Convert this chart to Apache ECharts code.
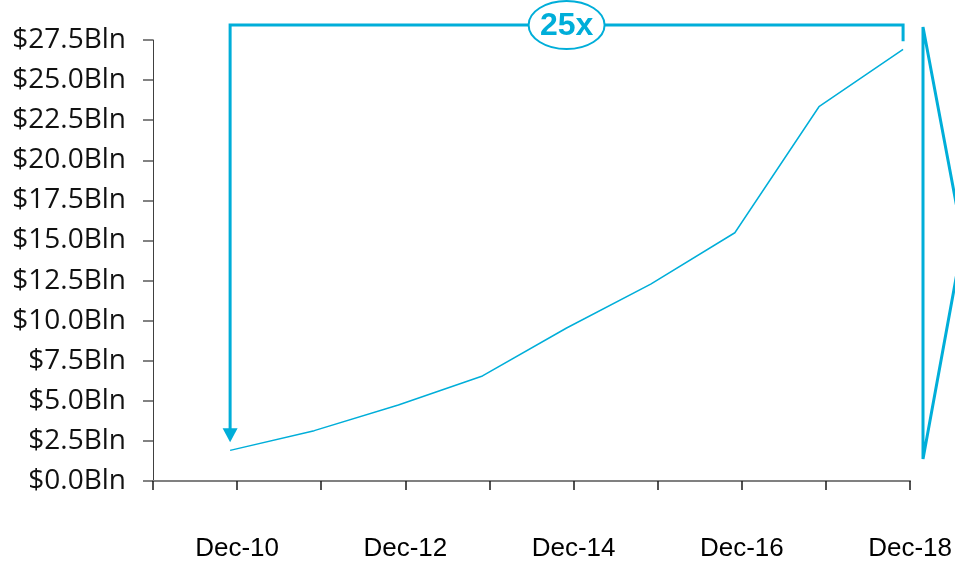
<!DOCTYPE html>
<html>
<head>
<meta charset="utf-8">
<script src="https://cdn.jsdelivr.net/npm/echarts@6/dist/echarts.min.js"></script>
<style>
  html, body { margin: 0; padding: 0; background: #fff; }
  #chart { width: 955px; height: 562px; }
</style>
</head>
<body>
<div id="chart"></div>
<script>
// Year-end totals, $ billions
const periods = ['Dec-10', 'Dec-11', 'Dec-12', 'Dec-13', 'Dec-14', 'Dec-15', 'Dec-16', 'Dec-17', 'Dec-18'];
const totals = [1.91, 3.14, 4.74, 6.55, 9.54, 12.28, 15.48, 23.34, 26.92];
const axisLabels = ['Dec-10', 'Dec-12', 'Dec-14', 'Dec-16', 'Dec-18'];
const growthLabel = '25x';

const ACCENT = '#00AED9';
const MONTHS = { Jan: 0, Feb: 1, Mar: 2, Apr: 3, May: 4, Jun: 5, Jul: 6, Aug: 7, Sep: 8, Oct: 9, Nov: 10, Dec: 11 };

// 'Dec-10' -> fractional year on a linear year axis
function toYear(p) {
  const [m, yy] = p.split('-');
  return 2000 + parseInt(yy, 10) + MONTHS[m] / 12;
}

const points = periods.map((p, i) => [toYear(p), totals[i]]);
const firstYear = Math.floor(points[0][0]);
const lastYear = Math.ceil(points[points.length - 1][0]);

// label for the year boundary that follows each listed period
const labelAt = {};
axisLabels.forEach(l => { labelAt[Math.floor(toYear(l)) + 1] = l; });

const chart = echarts.init(document.getElementById('chart'));

chart.setOption({
  animation: false,
  backgroundColor: '#ffffff',
  grid: { left: 153, right: 43, top: 40, bottom: 81, containLabel: false },
  xAxis: {
    type: 'value',
    min: firstYear,
    max: lastYear,
    interval: 1,
    splitLine: { show: false },
    axisLine: { show: true, lineStyle: { color: '#808080', width: 2 } },
    axisTick: { show: true, length: 9, lineStyle: { color: '#1a1a1a', width: 1.5 } },
    axisLabel: {
      show: true,
      margin: 55,
      fontFamily: 'Liberation Sans, Arial, sans-serif',
      fontSize: 26,
      color: '#000',
      showMinLabel: true,
      showMaxLabel: true,
      formatter: v => labelAt[v] || ''
    }
  },
  yAxis: {
    type: 'value',
    min: 0,
    max: 27.5,
    interval: 2.5,
    splitLine: { show: false },
    axisLine: { show: true, lineStyle: { color: '#404040', width: 1 } },
    axisTick: { show: true, length: 10, lineStyle: { color: '#595959', width: 1.5 } },
    axisLabel: {
      margin: 27,
      fontFamily: 'Open Sans, Noto Sans, sans-serif',
      fontSize: 28,
      color: '#111',
      formatter: v => '$' + v.toFixed(1) + 'Bln'
    }
  },
  series: [{
    type: 'line',
    data: points,
    symbol: 'none',
    lineStyle: { color: ACCENT, width: 1.5 },
    silent: true
  }]
});

// growth bracket spanning the first and last points
const pFirst = chart.convertToPixel({ xAxisIndex: 0, yAxisIndex: 0 }, points[0]);
const pLast = chart.convertToPixel({ xAxisIndex: 0, yAxisIndex: 0 }, points[points.length - 1]);
const topY = 25;
const tipY = pFirst[1] - 8;
const headH = 14;
const midX = (pFirst[0] + pLast[0]) / 2;

chart.setOption({
  graphic: [
    {
      type: 'polyline',
      shape: { points: [[pFirst[0], tipY - headH + 1], [pFirst[0], topY], [pLast[0], topY], [pLast[0], pLast[1] - 8]] },
      style: { stroke: ACCENT, lineWidth: 3, fill: null },
      silent: true
    },
    {
      type: 'polygon',
      shape: { points: [[pFirst[0] - 7.5, tipY - headH], [pFirst[0] + 7.5, tipY - headH], [pFirst[0], tipY]] },
      style: { fill: ACCENT },
      silent: true
    },
    {
      type: 'ellipse',
      shape: { cx: midX, cy: topY, rx: 38, ry: 24 },
      style: { fill: '#fff', stroke: ACCENT, lineWidth: 2 },
      silent: true
    },
    {
      type: 'text',
      x: midX,
      y: topY + 1,
      style: {
        text: growthLabel,
        fill: ACCENT,
        font: 'bold 32px "Liberation Sans", Arial, sans-serif',
        align: 'center',
        verticalAlign: 'middle'
      },
      silent: true
    },
    {
      // callout wedge at the right edge
      type: 'polygon',
      shape: { points: [[923, 27], [963, 240], [923, 459]] },
      style: { fill: null, stroke: ACCENT, lineWidth: 3 },
      silent: true
    }
  ]
});
</script>
</body>
</html>
